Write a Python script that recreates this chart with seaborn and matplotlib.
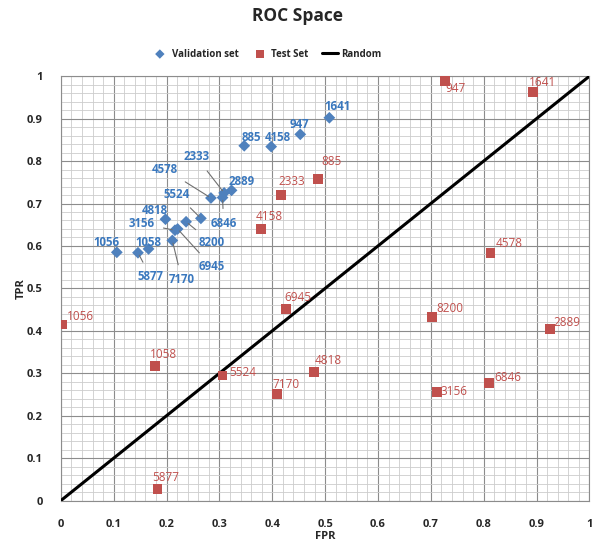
import numpy as np
import pandas as pd
import matplotlib
matplotlib.use("Agg")
import matplotlib.pyplot as plt
from matplotlib.ticker import MultipleLocator, FuncFormatter
import seaborn as sns

# model ids (same ids in both sets)
val_ids = ['1056', '5877', '1058', '7170', '3156', '6945', '4818', '8200', '5524',
           '4578', '2333', '6846', '2889', '885', '4158', '947', '1641']
val_fpr = [0.106, 0.146, 0.166, 0.211, 0.216, 0.221, 0.198, 0.237, 0.265,
           0.284, 0.309, 0.306, 0.323, 0.347, 0.398, 0.453, 0.508]
val_tpr = [0.585, 0.584, 0.593, 0.613, 0.637, 0.640, 0.663, 0.657, 0.665,
           0.713, 0.725, 0.714, 0.731, 0.836, 0.834, 0.863, 0.902]

test_ids = ['885', '2333', '4158', '947', '1641', '4578', '8200', '2889', '6846',
            '3156', '1056', '1058', '5524', '7170', '6945', '4818', '5877']
test_fpr = [0.487, 0.417, 0.378, 0.727, 0.893, 0.813, 0.702, 0.925, 0.810,
            0.711, 0.002, 0.178, 0.306, 0.409, 0.426, 0.479, 0.183]
test_tpr = [0.757, 0.720, 0.640, 0.989, 0.963, 0.584, 0.432, 0.405, 0.278,
            0.256, 0.415, 0.317, 0.295, 0.251, 0.451, 0.304, 0.027]

# label placement (offset from point, data units) and which get a leader line
val_dx = [-0.020, 0.024, 0.0, 0.018, -0.063, 0.065, -0.020, 0.049, -0.046,
          -0.087, -0.053, 0.002, 0.019, 0.014, 0.012, -0.002, 0.015]
val_dy = [0.022, -0.057, 0.014, -0.093, 0.015, -0.089, 0.021, -0.050, 0.057,
          0.068, 0.085, -0.062, 0.022, 0.020, 0.021, 0.022, 0.026]
val_leader = [False, True, False, True, True, True, False, True, True,
              True, True, True, False, False, False, False, False]
test_dx = [0.025, 0.019, 0.017, 0.020, 0.019, 0.035, 0.034, 0.033, 0.035,
           0.033, 0.036, 0.016, 0.039, 0.018, 0.022, 0.026, 0.016]
test_dy = [0.042, 0.031, 0.029, -0.018, 0.021, 0.022, 0.021, 0.014, 0.011,
           0.002, 0.018, 0.028, 0.007, 0.022, 0.027, 0.027, 0.027]

blue = '#4F81BD'
blue_txt = '#3A78BE'
red = '#C0504D'

sns.set_style('white')
plt.rcParams['font.family'] = ['Open Sans', 'DejaVu Sans']

fig = plt.figure(figsize=(5.96, 5.6), dpi=100)
ax = fig.add_axes([0.102, 0.106, 0.887, 0.758])

val = pd.DataFrame({'FPR': val_fpr, 'TPR': val_tpr})
test = pd.DataFrame({'FPR': test_fpr, 'TPR': test_tpr})

sns.lineplot(x=[0, 1], y=[0, 1], color='black', lw=2.2, ax=ax, label='Random', zorder=3)
sns.scatterplot(data=val, x='FPR', y='TPR', marker='D', color=blue, s=36,
                edgecolor='none', ax=ax, label='Validation set', zorder=4)
sns.scatterplot(data=test, x='FPR', y='TPR', marker='s', color=red, s=50,
                edgecolor='none', ax=ax, label='Test Set', zorder=4)

for i, name in enumerate(val_ids):
    x, y = val_fpr[i], val_tpr[i]
    tx, ty = x + val_dx[i], y + val_dy[i]
    if val_leader[i]:
        ax.annotate(name, xy=(x, y), xytext=(tx, ty), ha='center', va='center',
                    fontsize=8.3, fontweight='bold', color=blue_txt, zorder=5,
                    arrowprops=dict(arrowstyle='-', color='#707070', lw=0.8,
                                    shrinkA=4, shrinkB=2))
    else:
        ax.text(tx, ty, name, ha='center', va='center', fontsize=8.3,
                fontweight='bold', color=blue_txt, zorder=5)

for i, name in enumerate(test_ids):
    ax.text(test_fpr[i] + test_dx[i], test_tpr[i] + test_dy[i], name,
            ha='center', va='center', fontsize=8.5, color=red, zorder=5)

ax.set_xlim(0, 1)
ax.set_ylim(0, 1)
ax.xaxis.set_major_locator(MultipleLocator(0.1))
ax.yaxis.set_major_locator(MultipleLocator(0.1))
ax.xaxis.set_minor_locator(MultipleLocator(0.02))
ax.yaxis.set_minor_locator(MultipleLocator(0.02))
fmt = FuncFormatter(lambda v, p: '%g' % round(v, 2))
ax.xaxis.set_major_formatter(fmt)
ax.yaxis.set_major_formatter(fmt)
ax.grid(which='major', color='#8c8c8c', lw=0.8)
ax.grid(which='minor', color='#cccccc', lw=0.6)
ax.set_axisbelow(True)
ax.tick_params(which='major', direction='out', length=4, width=0.8, color='#808080',
               labelsize=8, pad=9)
ax.tick_params(which='minor', length=0)
for lab in ax.get_xticklabels() + ax.get_yticklabels():
    lab.set_fontweight('bold')
for sp in ax.spines.values():
    sp.set_color('#8c8c8c')
    sp.set_linewidth(0.8)

ax.set_xlabel('FPR', fontsize=8, fontweight='bold', labelpad=1)
ax.set_ylabel('TPR', fontsize=8, fontweight='bold', labelpad=0)

handles, labels = ax.get_legend_handles_labels()
order = [labels.index('Validation set'), labels.index('Test Set'), labels.index('Random')]
ax.legend([handles[k] for k in order], [labels[k] for k in order], ncol=3,
          loc='center', bbox_to_anchor=(0.39, 1.052), frameon=False,
          prop={'size': 7, 'weight': 'bold'}, handlelength=1.6, columnspacing=1.4,
          handletextpad=0.4, markerscale=0.8)

fig.suptitle('ROC Space', x=0.5, y=0.987, fontsize=12.5, fontweight='bold')

fig.savefig('out.png', dpi=100)
